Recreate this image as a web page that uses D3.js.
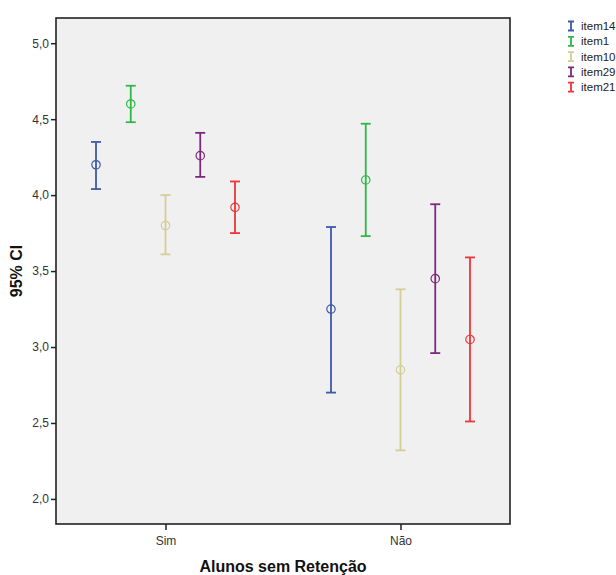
<!DOCTYPE html>
<html>
<head>
<meta charset="utf-8">
<script src="https://cdn.jsdelivr.net/npm/d3@7"></script>
<style>
  body { margin: 0; background: #fff; }
  svg text { font-family: Arial, "Liberation Sans", sans-serif; }
</style>
</head>
<body>
<div id="chart"></div>
<script>
const groups = ['Sim', 'Não'];
const items = ['item14', 'item1', 'item10', 'item29', 'item21'];
const colors = ['#3e58ac', '#2eb848', '#d3ce97', '#7c287d', '#ef3338'];

// mean, lower, upper per item, one array per group
const simMean = [4.20, 4.60, 3.80, 4.26, 3.92];
const simLow = [4.04, 4.48, 3.61, 4.12, 3.75];
const simHigh = [4.35, 4.72, 4.00, 4.41, 4.09];
const naoMean = [3.25, 4.10, 2.85, 3.45, 3.05];
const naoLow = [2.70, 3.73, 2.32, 2.96, 2.51];
const naoHigh = [3.79, 4.47, 3.38, 3.94, 3.59];

const yTicks = [2.0, 2.5, 3.0, 3.5, 4.0, 4.5, 5.0];

const data = [];
items.forEach((item, i) => {
    data.push({ group: 'Sim', item, mean: simMean[i], low: simLow[i], high: simHigh[i] });
    data.push({ group: 'Não', item, mean: naoMean[i], low: naoLow[i], high: naoHigh[i] });
});

const width = 616, height = 575;
const margin = { top: 18, right: 106, bottom: 51, left: 56 };
const w = width - margin.left - margin.right;
const h = height - margin.top - margin.bottom;

const svg = d3.select('#chart').append('svg')
    .attr('width', width)
    .attr('height', height);

const g = svg.append('g')
    .attr('transform', `translate(${margin.left},${margin.top})`);

const x = d3.scalePoint().domain(groups).range([0, w]).padding(0.466);
const xInner = d3.scalePoint().domain(items).range([-69.5, 69.5]);
const y = d3.scaleLinear().domain([1.835, 5.166]).range([h, 0]);
const color = d3.scaleOrdinal().domain(items).range(colors);

g.append('rect')
    .attr('width', w)
    .attr('height', h)
    .attr('fill', '#f0f0f0');

// axes
const yAxis = g.append('g')
    .call(d3.axisLeft(y).tickValues(yTicks).tickSize(5).tickPadding(2).tickFormat(d => d3.format('.1f')(d).replace('.', ',')));
const xAxis = g.append('g')
    .attr('transform', `translate(0,${h})`)
    .call(d3.axisBottom(x).tickSize(6).tickPadding(6));

[yAxis, xAxis].forEach(a => {
    a.select('.domain').remove();
    a.selectAll('line').attr('stroke', '#222').attr('stroke-width', 1.5);
    a.selectAll('text').attr('fill', '#333').style('font-size', '12px');
});

// frame
g.append('rect')
    .attr('width', w)
    .attr('height', h)
    .attr('fill', 'none')
    .attr('stroke', '#222')
    .attr('stroke-width', 1.6);

// error bars
const cap = 5;
const bars = g.selectAll('.bar').data(data).enter().append('g')
    .attr('class', 'bar')
    .attr('transform', d => `translate(${x(d.group) + xInner(d.item)},0)`)
    .attr('stroke', d => color(d.item))
    .attr('fill', 'none')
    .attr('stroke-width', 1.8);

bars.append('line')
    .attr('y1', d => y(d.low))
    .attr('y2', d => y(d.high));
bars.append('line')
    .attr('x1', -cap).attr('x2', cap)
    .attr('y1', d => y(d.high)).attr('y2', d => y(d.high));
bars.append('line')
    .attr('x1', -cap).attr('x2', cap)
    .attr('y1', d => y(d.low)).attr('y2', d => y(d.low));
bars.append('circle')
    .attr('cy', d => y(d.mean))
    .attr('r', 4.2)
    .attr('stroke-width', 1.2);

// axis titles
svg.append('text')
    .attr('transform', `translate(22,${margin.top + h / 2}) rotate(-90)`)
    .attr('text-anchor', 'middle')
    .style('font-size', '16px')
    .style('font-weight', 'bold')
    .attr('fill', '#111')
    .text('95% CI');

svg.append('text')
    .attr('x', margin.left + w / 2)
    .attr('y', 572)
    .attr('text-anchor', 'middle')
    .style('font-size', '16px')
    .style('font-weight', 'bold')
    .attr('fill', '#111')
    .text('Alunos sem Retenção');

// legend
const legend = svg.append('g').attr('transform', 'translate(571,26)');
const rows = legend.selectAll('.row').data(items).enter().append('g')
    .attr('transform', (d, i) => `translate(0,${i * 15.3})`);
rows.append('path')
    .attr('d', 'M-3,-4.5H3M0,-4.5V4.5M-3,4.5H3')
    .attr('stroke', d => color(d))
    .attr('stroke-width', 1.8)
    .attr('fill', 'none');
rows.append('text')
    .attr('x', 10)
    .attr('y', 4)
    .style('font-size', '11.5px')
    .attr('fill', '#222')
    .text(d => d);
</script>
</body>
</html>
